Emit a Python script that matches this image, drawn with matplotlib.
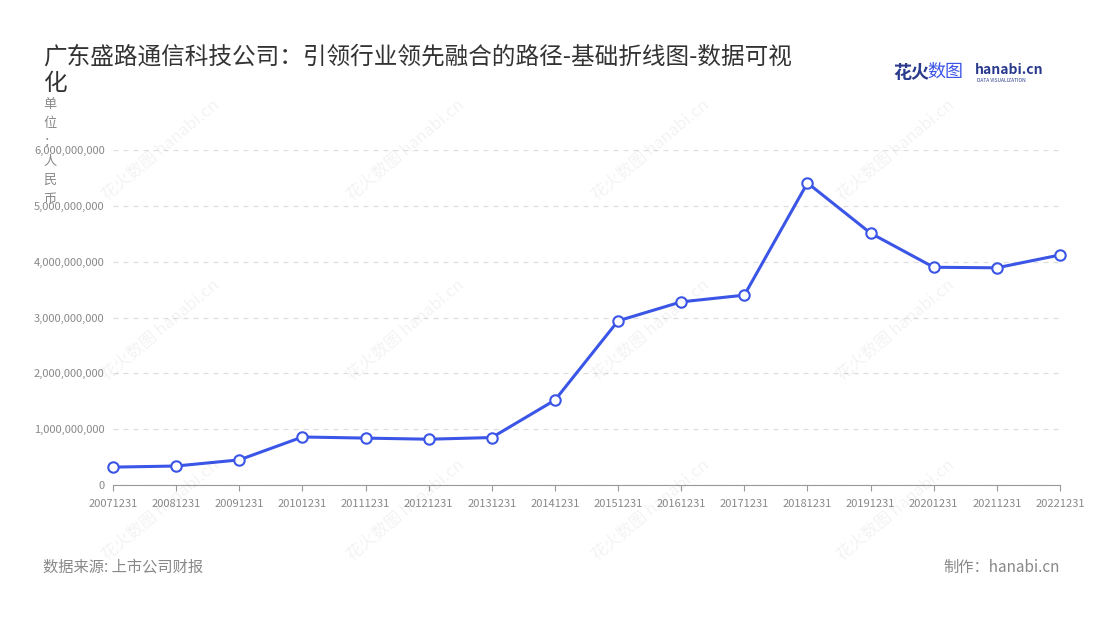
import matplotlib
matplotlib.use("Agg")
import matplotlib.pyplot as plt
from matplotlib.ticker import FuncFormatter

plt.rcParams['font.family'] = ['Noto Sans CJK SC', 'DejaVu Sans']

categories = ["20071231","20081231","20091231","20101231","20111231","20121231","20131231","20141231",
              "20151231","20161231","20171231","20181231","20191231","20201231","20211231","20221231"]
values = [0.32e9,0.34e9,0.45e9,0.86e9,0.84e9,0.82e9,0.85e9,1.52e9,
          2.94e9,3.28e9,3.40e9,5.41e9,4.51e9,3.90e9,3.89e9,4.12e9]

fig = plt.figure(figsize=(11, 6.2), dpi=100)
ax = fig.add_axes([113/1100, 1-485/620, (1060-113)/1100, 335/620])
x = list(range(len(categories)))
ax.plot(x, values, color='#3b55e6', lw=2.2, marker='o', ms=7.5, mfc='white', mec='#3b55e6', mew=1.5, zorder=3, clip_on=False)
ax.set_xlim(0, len(categories)-1)
ax.set_ylim(0, 6e9)
ax.set_yticks([i*1e9 for i in range(7)])
ax.yaxis.set_major_formatter(FuncFormatter(lambda v, p: f"{int(v):,}"))
ax.set_xticks(x)
ax.set_xticklabels(categories)
ax.tick_params(axis='both', labelsize=8, colors='#888888', length=0, pad=6)
ax.tick_params(axis='x', length=4, color='#999999')
ax.grid(axis='y', ls=(0, (4, 4)), color='#dddddd', lw=0.9)
for s in ['top', 'right', 'left']:
    ax.spines[s].set_visible(False)
ax.spines['bottom'].set_color('#999999')

fig.text(43/1100, 1-70/620, "广东盛路通信科技公司：引领行业领先融合的路径-基础折线图-数据可视\n化",
         fontsize=17, color='#333333', va='center', linespacing=1.2)
fig.text(50/1100, 1-152/620, "单\n位\n：\n人\n民\n币", fontsize=9.5, color='#888888', ha='center', va='center', linespacing=1.6)
fig.text(43/1100, 1-567/620, "数据来源: 上市公司财报", fontsize=11, color='#888888', va='center')
fig.text(1060/1100, 1-567/620, "制作：hanabi.cn", fontsize=11, color='#888888', va='center', ha='right')
fig.text(893/1100, 1-72/620, "花火", fontsize=13, color='#2a3a8c', fontweight='bold', va='center')
fig.text(927/1100, 1-72/620, "数图", fontsize=13, color='#3b55e6', va='center')
fig.text(975/1100, 1-70/620, "hanabi.cn", fontsize=10, color='#2a3a8c', fontweight='bold', va='center')
fig.text(977/1100, 1-80/620, "DATA VISUALIZATION", fontsize=3.5, color='#2a3a8c', va='center')

for wx in [160, 405, 650, 895]:
    for wy in [150, 330, 510]:
        fig.text(wx/1100, 1-wy/620, "花火数图 hanabi.cn", fontsize=12, color='#000000', alpha=0.05,
                 rotation=40, ha='center', va='center')

fig.savefig("out.png", dpi=100)
